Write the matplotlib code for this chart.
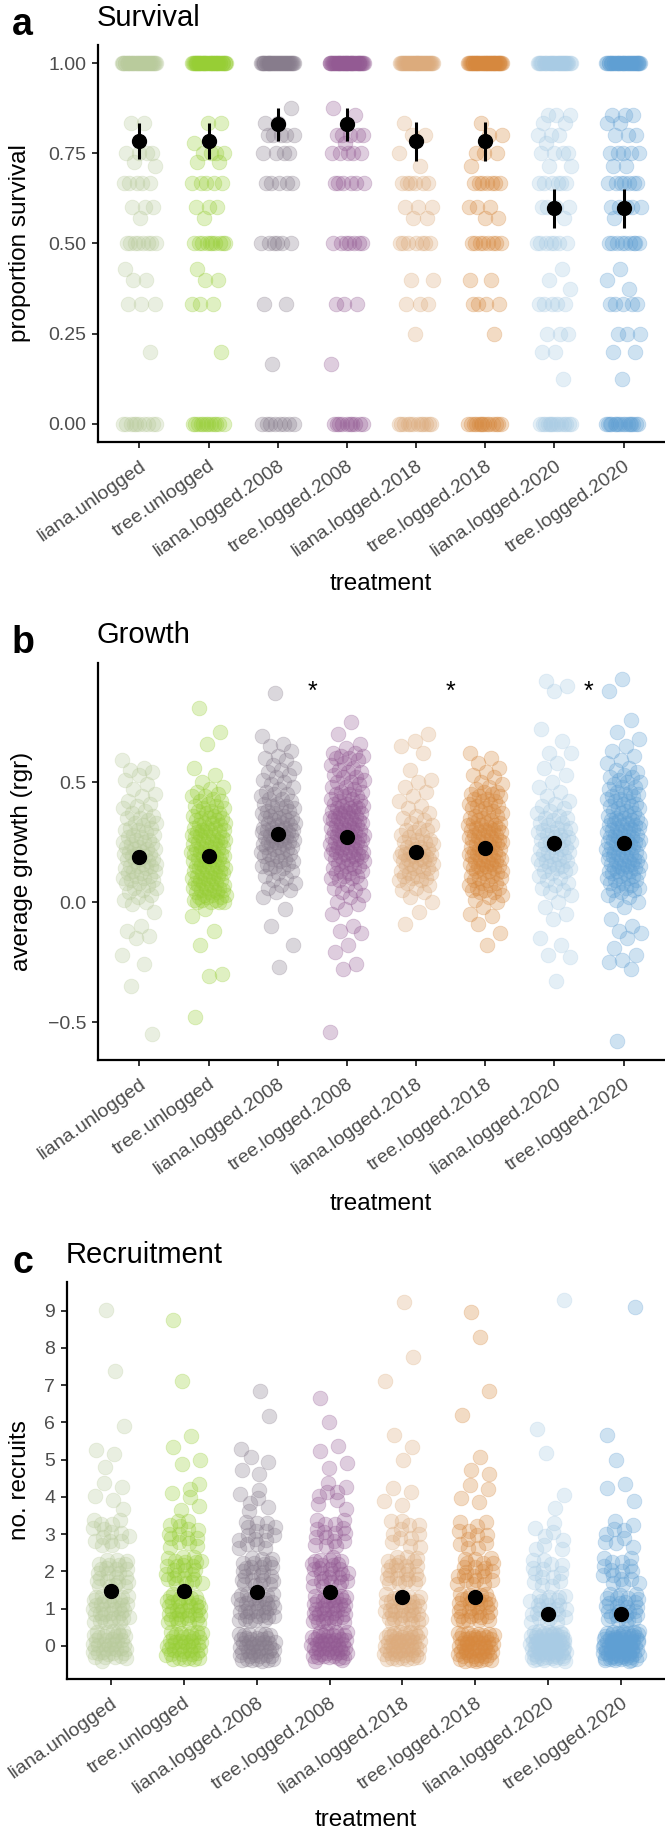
import numpy as np
import matplotlib
matplotlib.use("Agg")
import matplotlib.pyplot as plt

plt.rcParams['font.family'] = ['Liberation Sans', 'DejaVu Sans']

W, H = 665, 1830

treatments = ['liana.unlogged', 'tree.unlogged', 'liana.logged.2008', 'tree.logged.2008',
              'liana.logged.2018', 'tree.logged.2018', 'liana.logged.2020', 'tree.logged.2020']
colours = ['#b9cb9c', '#97ce35', '#877c8c', '#935a93', '#dcab7c', '#d6883e', '#a8cbe4', '#5f9fd3']

# --- a: survival, (proportion, number of plots) per treatment
surv = [
    [(1.0, 35), (0.833, 2), (0.75, 4), (0.727, 1), (0.714, 1), (0.667, 5), (0.6, 3), (0.571, 1),
     (0.5, 8), (0.429, 1), (0.4, 2), (0.333, 3), (0.2, 1), (0.0, 10)],
    [(1.0, 40), (0.833, 2), (0.778, 1), (0.75, 4), (0.727, 2), (0.667, 5), (0.6, 3), (0.571, 1),
     (0.5, 10), (0.429, 1), (0.4, 2), (0.333, 3), (0.2, 1), (0.0, 12)],
    [(1.0, 35), (0.875, 1), (0.833, 2), (0.8, 5), (0.75, 4), (0.667, 5), (0.5, 6), (0.333, 2),
     (0.167, 1), (0.0, 8)],
    [(1.0, 40), (0.875, 1), (0.857, 1), (0.8, 5), (0.778, 1), (0.75, 5), (0.667, 6), (0.5, 7),
     (0.333, 3), (0.167, 1), (0.0, 10)],
    [(1.0, 35), (0.833, 1), (0.8, 2), (0.75, 1), (0.714, 1), (0.667, 6), (0.6, 3), (0.571, 2),
     (0.5, 7), (0.4, 2), (0.333, 3), (0.25, 1), (0.0, 12)],
    [(1.0, 40), (0.833, 1), (0.8, 2), (0.75, 3), (0.714, 1), (0.667, 7), (0.6, 3), (0.571, 2),
     (0.5, 8), (0.4, 2), (0.333, 4), (0.25, 1), (0.0, 14)],
    [(1.0, 30), (0.857, 3), (0.833, 2), (0.8, 3), (0.778, 1), (0.75, 4), (0.714, 2), (0.667, 6),
     (0.6, 4), (0.571, 1), (0.5, 7), (0.429, 1), (0.4, 1), (0.375, 1), (0.333, 5), (0.25, 3),
     (0.2, 2), (0.125, 1), (0.0, 14)],
    [(1.0, 35), (0.857, 3), (0.833, 2), (0.8, 3), (0.75, 5), (0.714, 2), (0.667, 7), (0.6, 5),
     (0.571, 1), (0.5, 9), (0.429, 1), (0.4, 1), (0.375, 1), (0.333, 5), (0.25, 3), (0.2, 2),
     (0.125, 1), (0.0, 16)],
]
surv_mean = [0.785, 0.785, 0.83, 0.83, 0.785, 0.785, 0.598, 0.598]
surv_lo = [0.733, 0.733, 0.785, 0.785, 0.728, 0.728, 0.542, 0.542]
surv_hi = [0.833, 0.833, 0.875, 0.875, 0.838, 0.838, 0.652, 0.652]

# --- b: growth (rgr) per plot
grow = [
    [0.59, 0.56, 0.55, 0.54, 0.53, 0.51, 0.49, 0.47, 0.45, 0.44, 0.42, 0.41, 0.40, 0.39, 0.38, 0.37,
     0.36, 0.35, 0.35, 0.34, 0.33, 0.33, 0.32, 0.31, 0.31, 0.30, 0.30, 0.29, 0.28, 0.28, 0.27, 0.27,
     0.26, 0.26, 0.25, 0.25, 0.24, 0.24, 0.23, 0.23, 0.22, 0.22, 0.22, 0.21, 0.21, 0.20, 0.20, 0.20,
     0.19, 0.19, 0.18, 0.18, 0.18, 0.17, 0.17, 0.16, 0.16, 0.15, 0.15, 0.15, 0.14, 0.14, 0.13, 0.13,
     0.12, 0.12, 0.11, 0.11, 0.10, 0.10, 0.09, 0.09, 0.08, 0.08, 0.07, 0.06, 0.06, 0.05, 0.04, 0.03,
     0.02, 0.01, 0.00, -0.01, -0.04, -0.10, -0.12, -0.14, -0.15, -0.22, -0.26, -0.35, -0.55],
    [0.81, 0.71, 0.66, 0.56, 0.53, 0.50, 0.48, 0.47, 0.46, 0.45, 0.44, 0.44, 0.43, 0.42, 0.42, 0.41,
     0.40, 0.40, 0.39, 0.39, 0.38, 0.38, 0.37, 0.37, 0.36, 0.36, 0.35, 0.35, 0.35, 0.34, 0.34, 0.33,
     0.33, 0.33, 0.32, 0.32, 0.31, 0.31, 0.31, 0.30, 0.30, 0.30, 0.29, 0.29, 0.29, 0.28, 0.28, 0.28,
     0.27, 0.27, 0.27, 0.26, 0.26, 0.26, 0.25, 0.25, 0.25, 0.24, 0.24, 0.24, 0.23, 0.23, 0.23, 0.22,
     0.22, 0.22, 0.21, 0.21, 0.21, 0.20, 0.20, 0.20, 0.19, 0.19, 0.19, 0.18, 0.18, 0.18, 0.17, 0.17,
     0.17, 0.16, 0.16, 0.16, 0.15, 0.15, 0.15, 0.14, 0.14, 0.14, 0.13, 0.13, 0.13, 0.12, 0.12, 0.12,
     0.11, 0.11, 0.11, 0.10, 0.10, 0.10, 0.09, 0.09, 0.09, 0.08, 0.08, 0.08, 0.07, 0.07, 0.07, 0.06,
     0.06, 0.06, 0.05, 0.05, 0.05, 0.04, 0.04, 0.04, 0.03, 0.03, 0.03, 0.02, 0.02, 0.02, 0.01, 0.01,
     0.01, 0.00, 0.00, 0.00, 0.00, -0.03, -0.06, -0.12, -0.18, -0.30, -0.31, -0.48],
    [0.87, 0.69, 0.66, 0.65, 0.63, 0.61, 0.60, 0.59, 0.57, 0.56, 0.55, 0.54, 0.53, 0.52, 0.51, 0.50,
     0.49, 0.48, 0.47, 0.46, 0.45, 0.45, 0.44, 0.43, 0.43, 0.42, 0.41, 0.41, 0.40, 0.40, 0.39, 0.39,
     0.38, 0.38, 0.37, 0.37, 0.36, 0.36, 0.35, 0.35, 0.35, 0.34, 0.34, 0.33, 0.33, 0.33, 0.32, 0.32,
     0.31, 0.31, 0.31, 0.30, 0.30, 0.30, 0.29, 0.29, 0.29, 0.28, 0.28, 0.28, 0.27, 0.27, 0.27, 0.26,
     0.26, 0.26, 0.25, 0.25, 0.25, 0.24, 0.24, 0.24, 0.23, 0.23, 0.23, 0.22, 0.22, 0.21, 0.21, 0.20,
     0.20, 0.19, 0.19, 0.18, 0.18, 0.17, 0.17, 0.16, 0.16, 0.15, 0.15, 0.14, 0.14, 0.13, 0.12, 0.11,
     0.10, 0.09, 0.08, 0.07, 0.06, 0.05, 0.04, 0.02, -0.03, -0.10, -0.18, -0.27],
    [0.75, 0.70, 0.66, 0.64, 0.62, 0.62, 0.61, 0.61, 0.60, 0.60, 0.59, 0.58, 0.57, 0.56, 0.55, 0.54,
     0.54, 0.53, 0.52, 0.52, 0.51, 0.50, 0.50, 0.49, 0.48, 0.48, 0.47, 0.46, 0.46, 0.45, 0.45, 0.44,
     0.44, 0.43, 0.43, 0.42, 0.42, 0.41, 0.41, 0.40, 0.40, 0.40, 0.39, 0.39, 0.39, 0.38, 0.38, 0.38,
     0.37, 0.37, 0.37, 0.36, 0.36, 0.36, 0.35, 0.35, 0.35, 0.34, 0.34, 0.34, 0.33, 0.33, 0.33, 0.32,
     0.32, 0.32, 0.31, 0.31, 0.31, 0.30, 0.30, 0.30, 0.29, 0.29, 0.29, 0.28, 0.28, 0.28, 0.27, 0.27,
     0.27, 0.26, 0.26, 0.26, 0.25, 0.25, 0.25, 0.24, 0.24, 0.24, 0.23, 0.23, 0.23, 0.22, 0.22, 0.22,
     0.21, 0.21, 0.21, 0.20, 0.20, 0.20, 0.19, 0.19, 0.19, 0.18, 0.18, 0.18, 0.17, 0.17, 0.16, 0.16,
     0.15, 0.15, 0.14, 0.14, 0.13, 0.13, 0.12, 0.12, 0.11, 0.11, 0.10, 0.10, 0.09, 0.08, 0.07, 0.06,
     0.05, 0.04, 0.03, 0.02, 0.00, -0.01, -0.03, -0.05, -0.10, -0.12, -0.13, -0.18, -0.21, -0.26,
     -0.28, -0.54],
    [0.70, 0.67, 0.65, 0.62, 0.55, 0.51, 0.50, 0.48, 0.46, 0.44, 0.42, 0.40, 0.39, 0.37, 0.36, 0.35,
     0.34, 0.33, 0.32, 0.31, 0.30, 0.30, 0.29, 0.28, 0.28, 0.27, 0.26, 0.26, 0.25, 0.25, 0.24, 0.24,
     0.23, 0.23, 0.22, 0.22, 0.21, 0.21, 0.21, 0.20, 0.20, 0.20, 0.19, 0.19, 0.19, 0.18, 0.18, 0.18,
     0.17, 0.17, 0.17, 0.16, 0.16, 0.15, 0.15, 0.14, 0.14, 0.13, 0.13, 0.12, 0.12, 0.11, 0.11, 0.10,
     0.10, 0.09, 0.09, 0.08, 0.07, 0.06, 0.05, 0.04, 0.02, 0.00, -0.04, -0.09],
    [0.62, 0.60, 0.58, 0.56, 0.54, 0.53, 0.52, 0.50, 0.49, 0.48, 0.47, 0.46, 0.46, 0.45, 0.45, 0.44,
     0.44, 0.43, 0.43, 0.42, 0.42, 0.41, 0.41, 0.40, 0.40, 0.39, 0.39, 0.38, 0.38, 0.37, 0.37, 0.36,
     0.36, 0.35, 0.35, 0.34, 0.34, 0.33, 0.33, 0.33, 0.32, 0.32, 0.32, 0.31, 0.31, 0.31, 0.30, 0.30,
     0.30, 0.29, 0.29, 0.29, 0.28, 0.28, 0.28, 0.27, 0.27, 0.27, 0.26, 0.26, 0.26, 0.25, 0.25, 0.25,
     0.24, 0.24, 0.24, 0.23, 0.23, 0.23, 0.22, 0.22, 0.22, 0.21, 0.21, 0.21, 0.20, 0.20, 0.20, 0.19,
     0.19, 0.19, 0.18, 0.18, 0.18, 0.17, 0.17, 0.17, 0.16, 0.16, 0.16, 0.15, 0.15, 0.15, 0.14, 0.14,
     0.14, 0.13, 0.13, 0.13, 0.12, 0.12, 0.11, 0.11, 0.10, 0.10, 0.09, 0.09, 0.08, 0.08, 0.07, 0.07,
     0.06, 0.06, 0.05, 0.05, 0.04, 0.04, 0.03, 0.02, 0.01, 0.00, -0.02, -0.05, -0.06, -0.09, -0.13,
     -0.18],
    [0.92, 0.90, 0.88, 0.72, 0.67, 0.62, 0.62, 0.58, 0.56, 0.53, 0.50, 0.48, 0.46, 0.44, 0.42, 0.41,
     0.40, 0.39, 0.38, 0.37, 0.36, 0.35, 0.35, 0.34, 0.33, 0.33, 0.32, 0.31, 0.31, 0.30, 0.30, 0.29,
     0.29, 0.28, 0.28, 0.27, 0.27, 0.26, 0.26, 0.25, 0.25, 0.24, 0.24, 0.23, 0.23, 0.22, 0.22, 0.21,
     0.21, 0.20, 0.20, 0.19, 0.19, 0.18, 0.18, 0.17, 0.17, 0.16, 0.16, 0.15, 0.15, 0.14, 0.14, 0.13,
     0.13, 0.12, 0.11, 0.10, 0.09, 0.08, 0.07, 0.06, 0.05, 0.04, 0.03, 0.00, -0.02, -0.05, -0.07,
     -0.15, -0.18, -0.22, -0.23, -0.33],
    [0.93, 0.88, 0.76, 0.71, 0.68, 0.65, 0.63, 0.61, 0.59, 0.58, 0.56, 0.55, 0.54, 0.53, 0.52, 0.52,
     0.51, 0.50, 0.50, 0.49, 0.48, 0.48, 0.47, 0.46, 0.46, 0.45, 0.45, 0.44, 0.44, 0.43, 0.43, 0.42,
     0.42, 0.41, 0.41, 0.40, 0.40, 0.39, 0.39, 0.38, 0.38, 0.37, 0.37, 0.36, 0.36, 0.35, 0.35, 0.35,
     0.34, 0.34, 0.34, 0.33, 0.33, 0.33, 0.32, 0.32, 0.32, 0.31, 0.31, 0.31, 0.30, 0.30, 0.30, 0.29,
     0.29, 0.29, 0.28, 0.28, 0.28, 0.27, 0.27, 0.27, 0.26, 0.26, 0.26, 0.25, 0.25, 0.25, 0.24, 0.24,
     0.24, 0.23, 0.23, 0.23, 0.22, 0.22, 0.22, 0.21, 0.21, 0.21, 0.20, 0.20, 0.20, 0.19, 0.19, 0.19,
     0.18, 0.18, 0.18, 0.17, 0.17, 0.17, 0.16, 0.16, 0.16, 0.15, 0.15, 0.15, 0.14, 0.14, 0.14, 0.13,
     0.13, 0.13, 0.12, 0.12, 0.12, 0.11, 0.11, 0.10, 0.10, 0.09, 0.09, 0.08, 0.08, 0.07, 0.07, 0.06,
     0.06, 0.05, 0.05, 0.04, 0.03, 0.02, 0.01, 0.00, -0.02, -0.07, -0.10, -0.12, -0.13, -0.15, -0.19,
     -0.22, -0.24, -0.25, -0.28, -0.58],
]
grow_mean = [0.187, 0.190, 0.285, 0.272, 0.207, 0.227, 0.245, 0.244]
grow_err = [0.025, 0.025, 0.025, 0.025, 0.025, 0.025, 0.032, 0.025]
star_x = [3.5, 5.5, 7.5]
star_y = 0.875

# --- c: recruits, number of plots with 0,1,...,9 recruits
recruit_counts = [
    [40, 35, 25, 15, 5, 3, 1, 1, 0, 1],
    [40, 35, 25, 15, 6, 3, 1, 1, 0, 1],
    [45, 35, 25, 16, 6, 5, 1, 1, 0, 0],
    [48, 38, 28, 16, 8, 4, 1, 1, 0, 0],
    [50, 35, 24, 12, 4, 2, 1, 1, 1, 1],
    [55, 32, 22, 12, 4, 3, 1, 1, 1, 1],
    [70, 25, 14, 8, 2, 1, 1, 0, 0, 1],
    [80, 28, 16, 9, 3, 1, 1, 0, 0, 1],
]
rec_mean = [1.47, 1.47, 1.44, 1.44, 1.32, 1.32, 0.86, 0.86]
rec_err = [0.19, 0.19, 0.19, 0.19, 0.19, 0.19, 0.18, 0.18]


def spread(n, a, start=0.5):
    # low-discrepancy offsets in [-0.5, 0.5) used for the jitter
    return (start + np.arange(n) * a) % 1.0 - 0.5


def px_axes(fig, left, top, right, bottom):
    return fig.add_axes([left / W, 1 - bottom / H, (right - left) / W, (bottom - top) / H])


def style(ax):
    for s in ['top', 'right']:
        ax.spines[s].set_visible(False)
    for s in ['left', 'bottom']:
        ax.spines[s].set_linewidth(1.6)
        ax.spines[s].set_color('black')
    ax.tick_params(axis='both', length=4, width=1.4, color='#333333', labelsize=14,
                   labelcolor='#4d4d4d')
    ax.tick_params(axis='y', pad=4.5)
    ax.tick_params(axis='x', pad=7)
    ax.set_xlim(0.4, 8.6)
    ax.set_xticks(range(1, 9))
    ax.set_xticklabels(treatments, rotation=35, ha='right', va='top', rotation_mode='anchor')


def fy(p):
    return 1 - p / H


fig = plt.figure(figsize=(W / 100, H / 100), dpi=100)
pt_kw = dict(s=112, alpha=0.3, linewidths=0.6)
mean_kw = dict(fmt='o', color='black', ms=10, elinewidth=2.2, capsize=0, zorder=5)
JW = 0.25

# panel a
ax = px_axes(fig, 98, 45, 665, 442)
for i, groups in enumerate(surv):
    ys = np.concatenate([[v] * n for v, n in groups])
    xs = i + 1 + 2 * JW * spread(len(ys), 0.6180339887, 0.13 * i)
    ax.scatter(xs, ys, color=colours[i], edgecolors=colours[i], **pt_kw)
x = np.arange(1, 9)
ax.errorbar(x, surv_mean, yerr=[np.subtract(surv_mean, surv_lo), np.subtract(surv_hi, surv_mean)], **mean_kw)
ax.set_ylim(-0.05, 1.05)
ax.set_yticks([0, 0.25, 0.5, 0.75, 1.0])
ax.set_yticklabels(['0.00', '0.25', '0.50', '0.75', '1.00'])
style(ax)

# panel b
ax = px_axes(fig, 98, 663, 665, 1060)
for i, ys in enumerate(grow):
    xs = i + 1 + 2 * JW * spread(len(ys), 0.6180339887, 0.21 * i)
    ax.scatter(xs, ys, color=colours[i], edgecolors=colours[i], **pt_kw)
ax.errorbar(x, grow_mean, yerr=grow_err, **mean_kw)
for sx in star_x:
    ax.text(sx, star_y, '*', ha='center', va='center', fontsize=18, color='black')
ax.set_ylim(-0.658, 0.996)
ax.set_yticks([-0.5, 0.0, 0.5])
ax.set_yticklabels(['\u22120.5', '0.0', '0.5'])
style(ax)

# panel c
ax = px_axes(fig, 67, 1282, 665, 1679)
for i, counts in enumerate(recruit_counts):
    ys = np.concatenate([[v] * n for v, n in enumerate(counts)]).astype(float)
    n = len(ys)
    xs = i + 1 + 2 * JW * spread(n, 0.7548776662, 0.1 * i)
    ys = ys + 0.8 * spread(n, 0.5698402910, 0.3 + 0.1 * i)
    ax.scatter(xs, ys, color=colours[i], edgecolors=colours[i], **pt_kw)
ax.errorbar(x, rec_mean, yerr=rec_err, **mean_kw)
ax.set_ylim(-0.886, 9.77)
ax.set_yticks(range(0, 10))
style(ax)

# titles, panel letters and axis titles
fig.text(12 / W, fy(35), 'a', fontsize=27, fontweight='bold', va='baseline')
fig.text(97 / W, fy(26), 'Survival', fontsize=21, va='baseline')
fig.text(12 / W, fy(653), 'b', fontsize=27, fontweight='bold', va='baseline')
fig.text(97 / W, fy(643), 'Growth', fontsize=21, va='baseline')
fig.text(12 / W, fy(1273), 'c', fontsize=27, fontweight='bold', va='baseline')
fig.text(66 / W, fy(1263), 'Recruitment', fontsize=21, va='baseline')

fig.text(381 / W, fy(590), 'treatment', fontsize=17.5, ha='center', va='baseline')
fig.text(381 / W, fy(1210), 'treatment', fontsize=17.5, ha='center', va='baseline')
fig.text(366 / W, fy(1826), 'treatment', fontsize=17.5, ha='center', va='baseline')

fig.text(20 / W, fy(243), 'proportion survival', fontsize=17.5, rotation=90, ha='center', va='center')
fig.text(22 / W, fy(861), 'average growth (rgr)', fontsize=17.5, rotation=90, ha='center', va='center')
fig.text(20 / W, fy(1480), 'no. recruits', fontsize=17.5, rotation=90, ha='center', va='center')

fig.savefig('out.png', dpi=100)
